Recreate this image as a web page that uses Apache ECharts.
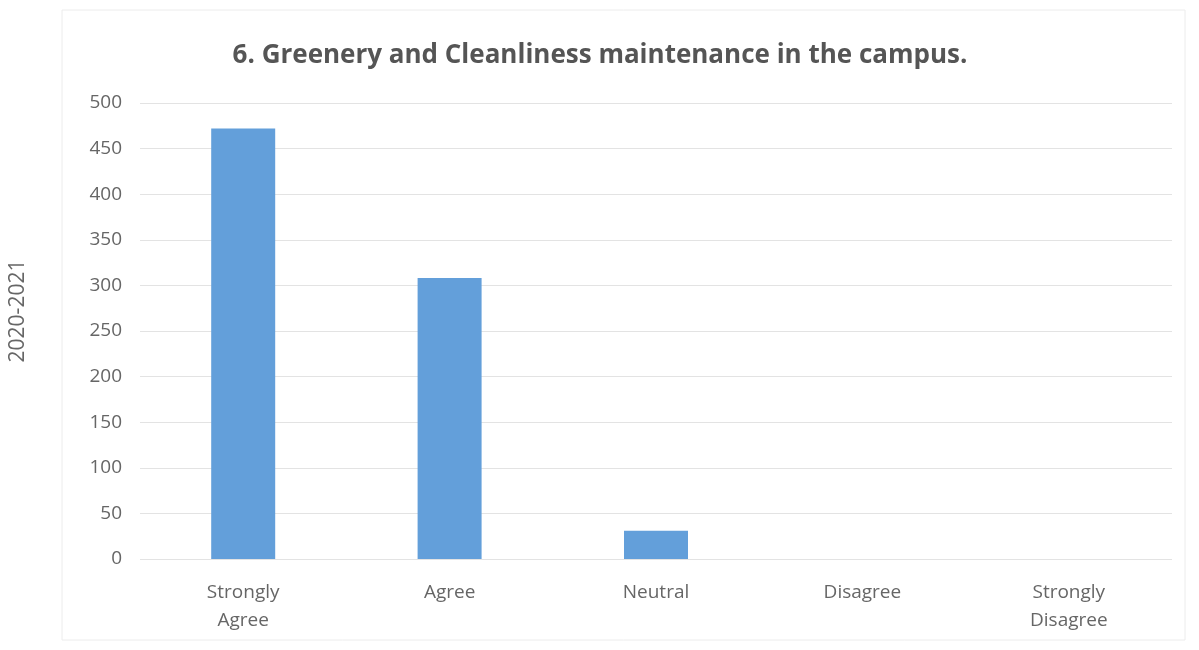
<!DOCTYPE html>
<html>
<head>
<meta charset="utf-8">
<script src="https://cdn.jsdelivr.net/npm/echarts@6/dist/echarts.min.js"></script>
<style>
  html, body { margin: 0; padding: 0; background: #fff; }
  #chart { width: 1199px; height: 650px; }
</style>
</head>
<body>
<div id="chart"></div>
<script>
  const categories = ['Strongly\nAgree', 'Agree', 'Neutral', 'Disagree', 'Strongly\nDisagree'];
  const responses = [472, 308, 31, 0, 0];
  const yTicks = { min: 0, max: 500, interval: 50 };

  const textColor = '#595959';
  const myChart = echarts.init(document.getElementById('chart'));

  const option = {
    backgroundColor: '#fff',
    title: {
      text: '6. Greenery and Cleanliness maintenance in the campus.',
      left: 595,
      top: 38,
      textAlign: 'center',
      textStyle: {
        fontFamily: 'Open Sans',
        fontSize: 26,
        fontWeight: 'bold',
        color: '#555',
      },
    },
    // faint outer chart border
    graphic: [
      {
        type: 'rect',
        shape: { x: 62, y: 10, width: 1123, height: 630 },
        style: { fill: 'none', stroke: '#ececec', lineWidth: 1 },
        silent: true,
      },
    ],
    grid: {
      left: 137,
      right: 27,
      top: 103,
      bottom: 91,
    },
    xAxis: {
      type: 'category',
      data: categories,
      axisLine: { show: false },
      axisTick: { show: false },
      axisLabel: {
        color: '#666',
        fontFamily: 'Open Sans',
        fontSize: 19,
        lineHeight: 28,
        margin: 20,
      },
    },
    yAxis: {
      type: 'value',
      min: yTicks.min,
      max: yTicks.max,
      interval: yTicks.interval,
      name: '2020-2021',
      nameLocation: 'middle',
      nameGap: 111,
      nameRotate: 90,
      nameTextStyle: {
        color: '#666',
        fontFamily: 'Open Sans',
        fontSize: 21,
        padding: [0, 0, 0, 40],
      },
      axisLine: { show: false },
      axisTick: { show: false },
      axisLabel: {
        color: '#666',
        fontFamily: 'Open Sans',
        fontSize: 19,
        margin: 18,
      },
      splitLine: {
        lineStyle: { color: '#e3e3e3', width: 1 },
      },
    },
    series: [
      {
        type: 'bar',
        data: responses,
        barWidth: 64,
        itemStyle: { color: '#639fda' },
      },
    ],
  };

  myChart.setOption(option);
</script>
</body>
</html>
